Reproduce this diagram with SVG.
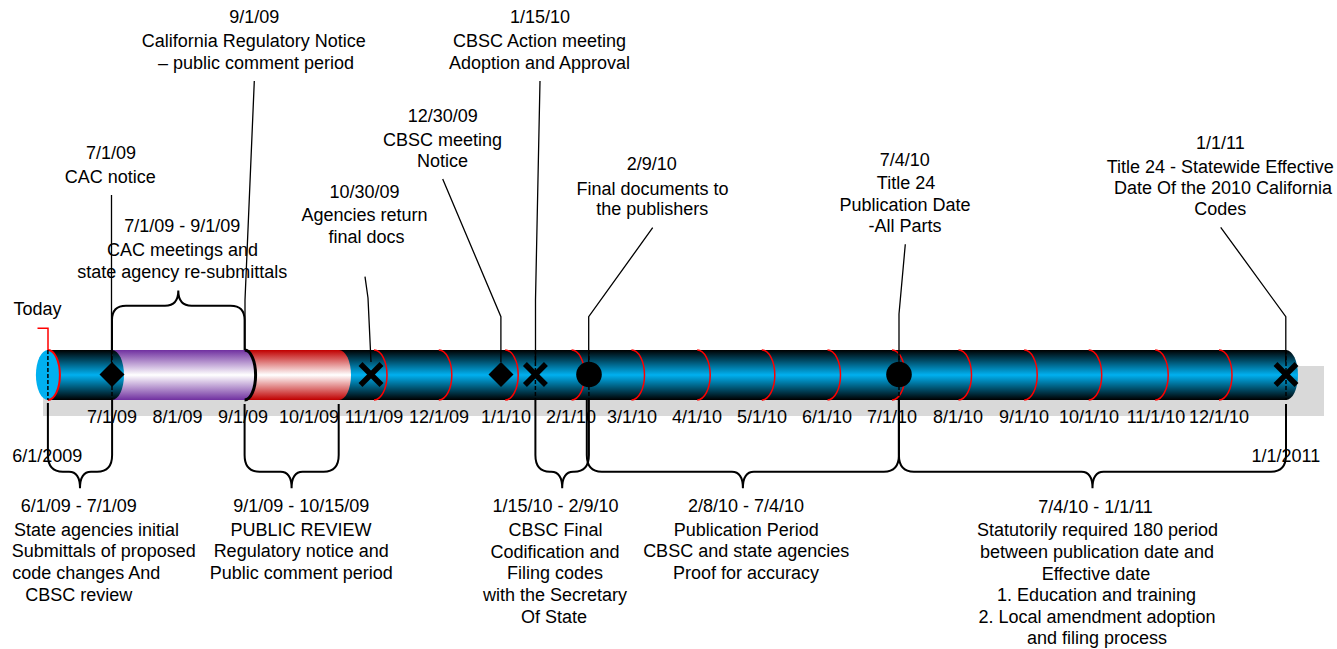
<svg xmlns="http://www.w3.org/2000/svg" width="1337" height="649" viewBox="0 0 1337 649">
<defs>
<linearGradient id="gBlue" x1="0" y1="0" x2="0" y2="1">
<stop offset="0" stop-color="#000000"/><stop offset="0.5" stop-color="#00b0f0"/><stop offset="1" stop-color="#000000"/>
</linearGradient>
<linearGradient id="gPurple" x1="0" y1="0" x2="0" y2="1">
<stop offset="0" stop-color="#7030a0"/><stop offset="0.5" stop-color="#ffffff"/><stop offset="1" stop-color="#7030a0"/>
</linearGradient>
<linearGradient id="gRed" x1="0" y1="0" x2="0" y2="1">
<stop offset="0" stop-color="#c00000"/><stop offset="0.5" stop-color="#ffffff"/><stop offset="1" stop-color="#c00000"/>
</linearGradient>
</defs>
<style>
.t{font-family:'Liberation Sans',Arial,sans-serif;font-size:18px;fill:#000;text-anchor:middle}
.ld{fill:none;stroke:#000;stroke-width:1.3}
.br{fill:none;stroke:#000;stroke-width:2}
.mo{fill:none;stroke:#ff0000;stroke-width:1.5}
.dash{stroke:#000;stroke-width:1.5;stroke-dasharray:4 2}
.xm{stroke:#000;stroke-width:5.5}
</style>
<rect width="1337" height="649" fill="#ffffff"/>

<g id="timeline-bar">
<rect x="43" y="366" width="1281" height="50" fill="#d9d9d9"/>
<path d="M47.9 350 H1286 A12 25 0 0 1 1286 400 H47.9 Z" fill="url(#gBlue)"/>
<g id="month-dividers">
<path class="mo" d="M374 350 A13 25 0 0 1 374 400"/>
<path class="mo" d="M438.8 350 A13 25 0 0 1 438.8 400"/>
<path class="mo" d="M505.2 350 A13 25 0 0 1 505.2 400"/>
<path class="mo" d="M571.6 350 A13 25 0 0 1 571.6 400"/>
<path class="mo" d="M631.5 350 A13 25 0 0 1 631.5 400"/>
<path class="mo" d="M697.2 350 A13 25 0 0 1 697.2 400"/>
<path class="mo" d="M761.8 350 A13 25 0 0 1 761.8 400"/>
<path class="mo" d="M827.5 350 A13 25 0 0 1 827.5 400"/>
<path class="mo" d="M892 350 A13 25 0 0 1 892 400"/>
<path class="mo" d="M958.5 350 A13 25 0 0 1 958.5 400"/>
<path class="mo" d="M1024.2 350 A13 25 0 0 1 1024.2 400"/>
<path class="mo" d="M1088.7 350 A13 25 0 0 1 1088.7 400"/>
<path class="mo" d="M1155.2 350 A13 25 0 0 1 1155.2 400"/>
<path class="mo" d="M1219 350 A13 25 0 0 1 1219 400"/>
</g>
<path id="seg-public-review" d="M244.6 350 H339 A12 25 0 0 1 339 400 H244.6 Z" fill="url(#gRed)"/>
<path id="seg-cac" d="M112 350 H244.6 A11 25 0 0 1 244.6 400 H112 Z" fill="url(#gPurple)"/>
<path d="M244.6 350 A11 25 0 0 1 244.6 400" fill="none" stroke="#000" stroke-width="3"/>
<path id="seg-june" d="M47.9 350 H112 A12 25 0 0 1 112 400 H47.9 Z" fill="url(#gBlue)"/>
<ellipse cx="47.9" cy="375" rx="12" ry="25" fill="#00b0f0"/>
<path d="M47.9 350 A12 25 0 0 1 47.9 400" fill="none" stroke="#ff0000" stroke-width="2"/>
</g>

<g id="month-labels" class="t">
<text x="112" y="422.5">7/1/09</text>
<text x="177.5" y="422.5">8/1/09</text>
<text x="243" y="422.5">9/1/09</text>
<text x="309" y="422.5">10/1/09</text>
<text x="374" y="422.5">11/1/09</text>
<text x="439" y="422.5">12/1/09</text>
<text x="506" y="422.5">1/1/10</text>
<text x="571" y="422.5">2/1/10</text>
<text x="632" y="422.5">3/1/10</text>
<text x="697" y="422.5">4/1/10</text>
<text x="762" y="422.5">5/1/10</text>
<text x="827" y="422.5">6/1/10</text>
<text x="892" y="422.5">7/1/10</text>
<text x="958" y="422.5">8/1/10</text>
<text x="1024" y="422.5">9/1/10</text>
<text x="1089" y="422.5">10/1/10</text>
<text x="1156" y="422.5">11/1/10</text>
<text x="1219" y="422.5">12/1/10</text>
<text x="47.2" y="461.7">6/1/2009</text>
<text x="1285.8" y="461.7">1/1/2011</text>
</g>

<g id="connectors">
<line class="dash" x1="47.9" y1="350" x2="47.9" y2="400"/>
<line class="dash" x1="112" y1="350" x2="112" y2="400"/>
<line class="dash" x1="535.4" y1="350" x2="535.4" y2="400"/>
<line class="dash" x1="588.9" y1="350" x2="588.9" y2="400"/>
<line class="dash" x1="899" y1="350" x2="899" y2="400"/>
<line class="dash" x1="1286" y1="350" x2="1286" y2="400"/>
<polyline points="37.5,328.3 48,328.3 48,350" fill="none" stroke="#ff0000" stroke-width="1.5"/>
<path class="ld" d="M111.5 195 V362"/>
<path class="ld" d="M254.3 81 L245 300 V350"/>
<path class="ld" d="M365 276.7 L368 298 L371 362"/>
<path class="ld" d="M442.7 179 L500.9 316.7 V362"/>
<path class="ld" d="M540 81 L535.5 300 V362"/>
<path class="ld" d="M652.7 227.7 L588.7 316.7 V362"/>
<path class="ld" d="M905.3 244.3 L899 314 V362"/>
<path class="ld" d="M1220.7 227.3 L1285.8 316.7 V362"/>
<path class="br" d="M112 350 V320 Q112 305.7 126 305.7 H165 Q178.3 305.7 178.3 290.5 Q178.3 305.7 191.6 305.7 H230.6 Q244.6 305.7 244.6 320 V350"/>
<path class="br" d="M47.9 403 V455 Q47.9 471.7 62.9 471.7 H69 Q80 471.7 80 488.3 Q80 471.7 91 471.7 H97.1 Q112.1 471.7 112.1 455 V400"/>
<path class="br" d="M244.6 404 V455 Q244.6 471.7 259.6 471.7 H280.6 Q291.6 471.7 291.6 488.3 Q291.6 471.7 302.6 471.7 H323.7 Q338.7 471.7 338.7 455 V404"/>
<path class="br" d="M535.4 400 V455 Q535.4 471.7 550 471.7 H551.2 Q562.2 471.7 562.2 488.3 Q562.2 471.7 573.2 471.7 H574 Q588.9 471.7 588.9 455 V400"/>
<path class="br" d="M586.8 400 V455 Q586.8 471.7 601.8 471.7 H731.9 Q742.9 471.7 742.9 488.3 Q742.9 471.7 753.9 471.7 H883.9 Q898.9 471.7 898.9 455 V400"/>
<path class="br" d="M898.9 400 V455 Q898.9 471.7 913.9 471.7 H1081.5 Q1092.5 471.7 1092.5 488.3 Q1092.5 471.7 1103.5 471.7 H1271 Q1286 471.7 1286 455 V404"/>
</g>

<g id="markers">
<polygon id="m-cac-notice" points="112,362 124.5,374.5 112,387 99.5,374.5" fill="#000"/>
<g id="m-agencies-return"><line class="xm" x1="360.5" y1="364" x2="381.5" y2="385"/><line class="xm" x1="381.5" y1="364" x2="360.5" y2="385"/></g>
<polygon id="m-cbsc-notice" points="501,362 513.5,374.5 501,387 488.5,374.5" fill="#000"/>
<g id="m-cbsc-action"><line class="xm" x1="524.9" y1="364" x2="545.9" y2="385"/><line class="xm" x1="545.9" y1="364" x2="524.9" y2="385"/></g>
<circle id="m-final-docs" cx="589" cy="374.5" r="12.8" fill="#000"/>
<circle id="m-publication" cx="899" cy="374.5" r="12.8" fill="#000"/>
<g id="m-effective"><line class="xm" x1="1275.5" y1="364" x2="1296.5" y2="385"/><line class="xm" x1="1296.5" y1="364" x2="1275.5" y2="385"/></g>
</g>

<g id="node-today" class="t"><text x="37.5" y="315">Today</text></g>

<g id="node-crn" class="t">
<text x="254.3" y="23.3">9/1/09</text>
<text x="253.7" y="47">California Regulatory Notice</text>
<text x="256" y="69">– public comment period</text>
</g>
<g id="node-cac-notice" class="t">
<text x="111" y="159.3">7/1/09</text>
<text x="110.3" y="182.5">CAC notice</text>
</g>
<g id="node-cac-meetings" class="t">
<text x="182.3" y="232.3">7/1/09 - 9/1/09</text>
<text x="182.5" y="255.5">CAC meetings and</text>
<text x="182.3" y="277.7">state agency re-submittals</text>
</g>
<g id="node-agencies-return" class="t">
<text x="364.5" y="197.5">10/30/09</text>
<text x="364.5" y="220.5">Agencies return</text>
<text x="366.5" y="242.5">final docs</text>
</g>
<g id="node-cbsc-notice" class="t">
<text x="442.8" y="121.5">12/30/09</text>
<text x="442.5" y="145.5">CBSC meeting</text>
<text x="442.5" y="166.5">Notice</text>
</g>
<g id="node-cbsc-action" class="t">
<text x="540" y="23.3">1/15/10</text>
<text x="539.5" y="47">CBSC Action meeting</text>
<text x="539.5" y="69">Adoption and Approval</text>
</g>
<g id="node-final-docs" class="t">
<text x="651.7" y="170">2/9/10</text>
<text x="652.5" y="194.5">Final documents to</text>
<text x="652.2" y="215">the publishers</text>
</g>
<g id="node-publication" class="t">
<text x="904.7" y="165.5">7/4/10</text>
<text x="906" y="188.5">Title 24</text>
<text x="905" y="210.5">Publication Date</text>
<text x="905" y="232.3">-All Parts</text>
</g>
<g id="node-effective" class="t">
<text x="1220.3" y="148.5">1/1/11</text>
<text x="1220.3" y="172.7">Title 24 - Statewide Effective</text>
<text x="1223" y="194">Date Of the 2010 California</text>
<text x="1220.2" y="215">Codes</text>
</g>

<g id="node-initial-submittals" class="t">
<text x="78.7" y="511.7">6/1/09 - 7/1/09</text>
<text x="96.5" y="535.5">State agencies initial</text>
<text x="103.8" y="557">Submittals of proposed</text>
<text x="86.3" y="578.5">code changes And</text>
<text x="78.8" y="600.5">CBSC review</text>
</g>
<g id="node-public-review" class="t">
<text x="301.3" y="511.7">9/1/09 - 10/15/09</text>
<text x="301" y="535.5">PUBLIC REVIEW</text>
<text x="301.2" y="557">Regulatory notice and</text>
<text x="301.3" y="578.5">Public comment period</text>
</g>
<g id="node-codification" class="t">
<text x="555.5" y="511.7">1/15/10 - 2/9/10</text>
<text x="555.5" y="536">CBSC Final</text>
<text x="555" y="557.5">Codification and</text>
<text x="555" y="579.3">Filing codes</text>
<text x="555" y="601">with the Secretary</text>
<text x="554" y="622.7">Of State</text>
</g>
<g id="node-publication-period" class="t">
<text x="746" y="511.7">2/8/10 - 7/4/10</text>
<text x="746.2" y="535.5">Publication Period</text>
<text x="746.2" y="557">CBSC and state agencies</text>
<text x="746" y="578.5">Proof for accuracy</text>
</g>
<g id="node-statutory-period" class="t">
<text x="1095.5" y="512.5">7/4/10 - 1/1/11</text>
<text x="1097.5" y="536">Statutorily required 180 period</text>
<text x="1097" y="558">between publication date and</text>
<text x="1096" y="579.5">Effective date</text>
<text x="1096.5" y="601">1. Education and training</text>
<text x="1097" y="622.5">2. Local amendment adoption</text>
<text x="1097" y="643.5">and filing process</text>
</g>
</svg>
